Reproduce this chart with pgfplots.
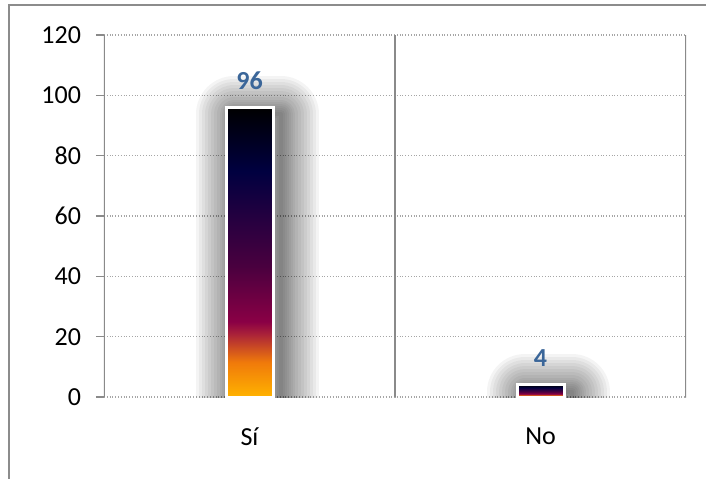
\documentclass[border=0pt]{standalone}
\usepackage{fontspec}
\setmainfont{Carlito}
\usepackage{pgfplots}
\pgfplotsset{compat=1.18}
\definecolor{labelblue}{HTML}{3B6699}
\definecolor{framegray}{HTML}{8C8C8C}
\definecolor{axisgray}{HTML}{8A8A8A}
\definecolor{gridgray}{HTML}{A6A6A6}
\definecolor{c0}{HTML}{FFB300}
\definecolor{c1}{HTML}{F07A0A}
\definecolor{c2}{HTML}{A8203A}
\definecolor{c3}{HTML}{8A0045}
\definecolor{c4}{HTML}{4A003F}
\definecolor{c5}{HTML}{200040}
\definecolor{c6}{HTML}{000040}
\definecolor{c7}{HTML}{000000}
\pgfdeclareverticalshading{barshade}{100bp}{color(0bp)=(c0); color(25bp)=(c0); color(31bp)=(c1); color(36bp)=(c2); color(38bp)=(c3); color(47.5bp)=(c4); color(57bp)=(c5); color(64bp)=(c6); color(75bp)=(c7); color(100bp)=(c7)}
\tikzset{
  gl/.style={preaction={draw=black, draw opacity=0.042, fill opacity=0, line width=#1, line join=round, transform canvas={xshift=4bp, yshift=-3.5bp}}},
  glow/.style={gl=38bp, gl=35bp, gl=32bp, gl=29bp, gl=26bp, gl=23bp, gl=20bp, gl=17bp, gl=14bp, gl=12bp, gl=10bp, gl=8bp, gl=6bp, gl=4bp, gl=2bp},
}
\pgfplotsset{
  barstyle/.style={ybar, bar width=23.5bp, draw=white, line width=1.5bp, shading=barshade, glow,
    nodes near coords,
    every node near coord/.append style={font=\fontsize{13bp}{15bp}\selectfont\bfseries, text=labelblue, yshift=5bp}},
}
\begin{document}
\begin{tikzpicture}
\begin{axis}[
  at={(0,0)}, anchor=south west,
  scale only axis, width=291bp, height=181bp,
  xmin=0, xmax=2, ymin=0, ymax=120,
  axis line style={draw=none},
  ytick={0,20,...,120},
  ymajorgrids,
  major grid style={densely dotted, gridgray, line width=0.6bp},
  ytick pos=left, xtick pos=bottom,
  tick align=outside,
  major tick length=4bp,
  y tick style={axisgray, line width=0.75bp},
  xtick={0.5,1.5}, xticklabels={Sí,No},
  x tick style={draw=none},
  /pgf/number format/assume math mode=true,
  every tick label/.append style={font=\fontsize{13bp}{15bp}\selectfont, text=black},
  xticklabel style={yshift=-8bp},
  yticklabel style={xshift=-4bp},
]
\draw[axisgray, line width=0.75bp] (axis cs:0,0) -- (axis cs:0,120);
\draw[axisgray, line width=0.75bp] (axis cs:1,0) -- (axis cs:1,120);
\draw[axisgray, line width=0.75bp] (axis cs:2,0) -- (axis cs:2,120);
\draw[gridgray, densely dotted, line width=0.6bp] (axis cs:0,0) -- ++(0,-4bp);
\draw[gridgray, densely dotted, line width=0.6bp] (axis cs:1,0) -- ++(0,-4bp);
\draw[gridgray, densely dotted, line width=0.6bp] (axis cs:2,0) -- ++(0,-4bp);
\addplot[barstyle] coordinates {(0.5,96)};
\addplot[barstyle] coordinates {(1.5,4)};
\end{axis}
\draw[framegray, line width=1bp] (-47.25bp,-60bp) rectangle (320bp,195.75bp);
\pgfresetboundingbox
\useasboundingbox (-52bp,-41bp) rectangle (301bp,198.5bp);
\end{tikzpicture}
\end{document}
